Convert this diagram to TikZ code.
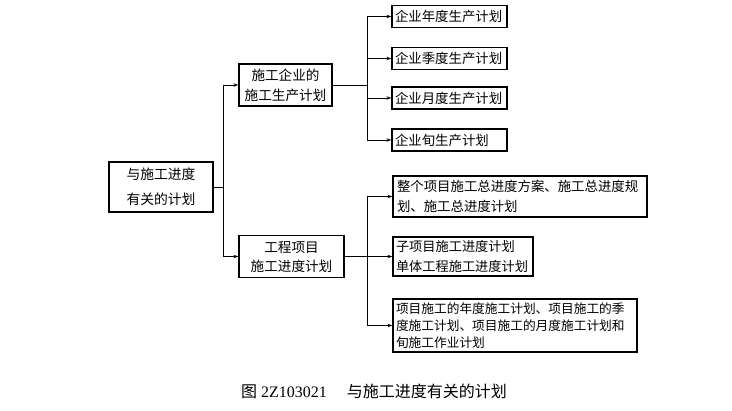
\documentclass[tikz,border=0pt]{standalone}
\usepackage{fontspec}
\setmainfont{Liberation Serif}
\newfontfamily\cjk{Noto Sans CJK SC}
\usetikzlibrary{arrows.meta}
\begin{document}
\begin{tikzpicture}[x=1pt,y=-1pt,
  box/.style={draw, line width=1.3pt, inner sep=0pt, align=center},
  leaf/.style={draw, line width=1.3pt, inner xsep=4pt, inner ysep=0pt, align=left},
  conn/.style={line width=0.8pt},
  arr/.style={conn, -{Stealth[length=5pt,width=3.5pt]}}]
\useasboundingbox (0,0) rectangle (732,411);
\fill[white] (0,0) rectangle (732,411);
% root
\node[box, minimum width=104pt, minimum height=50pt, font=\cjk\fontsize{13.8}{25}\selectfont] (root) at (161,187) {与施工进度\\有关的计划};
% middle
\node[box, minimum width=93pt, minimum height=42pt, font=\cjk\fontsize{13.6}{20}\selectfont] (n1) at (285.5,85) {施工企业的\\施工生产计划};
\node[box, minimum width=105pt, minimum height=42pt, font=\cjk\fontsize{13.6}{19}\selectfont] (n2) at (291.5,256.5) {工程项目\\施工进度计划};
% top leaves
\tikzset{tl/.style={leaf, inner xsep=3pt, text width=109pt, minimum height=22pt, font=\cjk\fontsize{13.4}{16}\selectfont}}
\node[tl] (t1) at (449.5,16.5) {企业年度生产计划};
\node[tl] (t2) at (449.5,58.5) {企业季度生产计划};
\node[tl] (t3) at (449.5,98) {企业月度生产计划};
\node[tl] (t4) at (449.5,140) {企业旬生产计划};
% bottom leaves
\node[leaf, text width=246pt, minimum height=41pt, font=\cjk\fontsize{13.4}{20}\selectfont] (a) at (520,196.5) {整个项目施工总进度方案、施工总进度规\\划、施工总进度计划};
\node[leaf, inner xsep=3pt, text width=134pt, minimum height=39pt, font=\cjk\fontsize{13.2}{20}\selectfont] (b) at (463,256.5) {子项目施工进度计划\\单体工程施工进度计划};
\node[leaf, inner xsep=3pt, text width=238pt, minimum height=53pt, font=\cjk\fontsize{12.7}{17}\selectfont] (c) at (515,325.5) {项目施工的年度施工计划、项目施工的季\\度施工计划、项目施工的月度施工计划和\\旬施工作业计划};
% connectors
\coordinate (j1) at (223,187);
\coordinate (j2) at (367,85);
\coordinate (j3) at (367,256.5);
\draw[conn] (root.east) -- (j1);
\draw[arr] (j1) |- (n1.west);
\draw[arr] (j1) |- (n2.west);
\draw[conn] (n1.east) -- (j2);
\draw[arr] (j2) |- (t1.west);
\draw[arr] (j2) |- (t2.west);
\draw[arr] (j2) |- (t3.west);
\draw[arr] (j2) |- (t4.west);
\draw[arr] (n2.east) -- (b.west);
\draw[arr] (j3) |- (a.west);
\draw[arr] (j3) |- (c.west);
% caption
\node[anchor=west, inner sep=0pt, font=\fontsize{16}{18}\selectfont] (cap) at (241,391) {{\cjk 图}\hspace{4pt}2Z103021\hspace{20pt}{\cjk 与施工进度有关的计划}};
\end{tikzpicture}
\end{document}
